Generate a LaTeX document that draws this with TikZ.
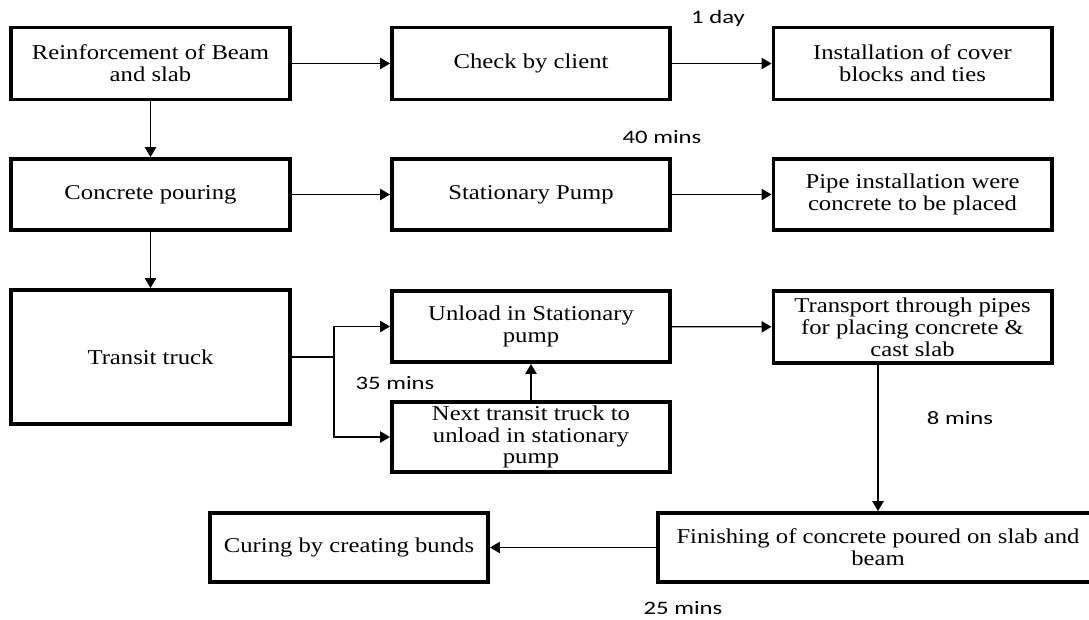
\documentclass[tikz,border=0pt]{standalone}
\usepackage{fontspec}
\setmainfont{Liberation Serif}[FakeStretch=1.17]
\newfontfamily\timefont{Carlito}[FakeStretch=1.3]
\usepackage{tikz}
\usetikzlibrary{arrows.meta, positioning, calc}

\begin{document}
\begin{tikzpicture}[x=0.025cm, y=-0.025cm,
    stepbox/.style={draw, line width=2.8pt, align=center, inner sep=2pt,
        minimum width=6.95cm, minimum height=1.8cm,
        font=\fontsize{15}{15.5}\selectfont},
    flow/.style={line width=0.9pt, -{Triangle[length=7pt, width=8pt]}},
    timing/.style={font=\timefont\fontsize{13.5}{14}\selectfont}]
    \useasboundingbox (0,0) rectangle (1089,619);

    % Row 1: reinforcement and checking
    \node[stepbox] (reinf) at (150.5,63.5) {Reinforcement of Beam\\and slab};
    \node[stepbox] (check) at (531,63.5) {Check by client};
    \node[stepbox] (cover) at (912.5,63.5) {Installation of cover\\blocks and ties};
    \node[timing] (tday) at (718,18) {1 day};

    % Row 2: pouring with stationary pump
    \node[stepbox, minimum height=1.775cm] (pour) at (150.5,194.5) {Concrete pouring};
    \node[stepbox, minimum height=1.775cm] (pump) at (531,194.5) {Stationary Pump};
    \node[stepbox, minimum height=1.775cm] (pipe) at (912.5,194.5) {Pipe installation were\\concrete to be placed};
    \node[timing] (tforty) at (662,137) {40 mins};

    % Row 3: transit trucks
    \node[stepbox, minimum height=3.35cm] (truck) at (150.5,357) {Transit truck};
    \node[stepbox, minimum height=1.775cm] (unload) at (531,326.5) {Unload in Stationary\\pump};
    \node[stepbox, minimum height=1.75cm] (next) at (531,437) {Next transit truck to\\unload in stationary\\pump};
    \node[stepbox, minimum height=1.8cm] (transport) at (912.5,327) {Transport through pipes\\for placing concrete \&\\cast slab};
    \node[timing] (tthirtyfive) at (395,383) {35 mins};
    \node[timing] (teight) at (960,418) {8 mins};

    % Row 4: finishing and curing
    \node[stepbox, minimum width=11cm, minimum height=1.725cm] (finish) at (878,547.5) {Finishing of concrete poured on slab and\\beam};
    \node[stepbox, minimum height=1.725cm] (cure) at (349,547.5) {Curing by creating bunds};
    \node[timing] (ttwentyfive) at (683,608) {25 mins};

    % connectors
    \draw[flow] (reinf) -- (check);
    \draw[flow] (check) -- (cover);
    \draw[flow] (reinf) -- (pour);
    \draw[flow] (pour) -- (pump);
    \draw[flow] (pump) -- (pipe);
    \draw[flow] (pour) -- (truck);
    \coordinate (split) at (334,357);
    \draw[line width=0.9pt] (truck.east) -- (split);
    \draw[flow] (split) |- (unload.west);
    \draw[flow] (split) |- (next.west);
    \draw[flow] (next) -- (unload);
    \draw[flow] (unload) -- (transport);
    \draw[flow] (finish.north |- transport.south) -- (finish.north);
    \draw[flow] (finish) -- (cure);
\end{tikzpicture}
\end{document}
